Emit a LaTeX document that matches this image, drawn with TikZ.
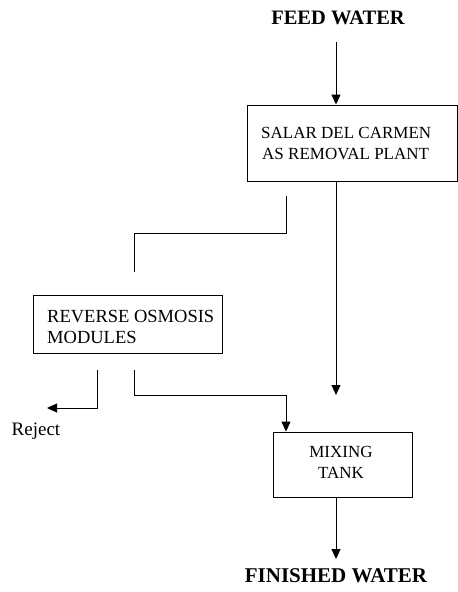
\documentclass[tikz,border=0pt]{standalone}
\usepackage{fontspec}
\setmainfont{Liberation Serif}
\usetikzlibrary{arrows.meta}
\begin{document}
\begin{tikzpicture}[x=1pt,y=-1pt,
  boxed/.style={draw,line width=0.9pt,inner sep=0pt},
  lbl/.style={inner sep=0pt,font=\fontsize{17}{17}\selectfont},
  head/.style={inner sep=0pt,font=\fontsize{20.5}{20.5}\selectfont\bfseries},
  flow/.style={line width=0.9pt},
  tip/.style={-{Triangle[length=10pt,width=9pt]}}]
\useasboundingbox (0,0) rectangle (458,592);
\node[head] (feed) at (338,18) {FEED WATER};
\node[boxed,minimum width=210,minimum height=76] (plant) at (352,143) {};
\node[lbl,anchor=west] (plant1) at (261,133) {SALAR DEL CARMEN};
\node[lbl,anchor=west] (plant2) at (262,154) {AS REMOVAL PLANT};
\node[boxed,minimum width=189,minimum height=58] (ro) at (127.5,324) {};
\node[lbl,anchor=west,font=\fontsize{18.5}{18.5}\selectfont] (ro1) at (47,317) {REVERSE OSMOSIS};
\node[lbl,anchor=west,font=\fontsize{18.5}{18.5}\selectfont] (ro2) at (47,337) {MODULES};
\node[boxed,minimum width=139,minimum height=65] (mix) at (342.5,464.5) {};
\node[lbl] (mix1) at (341,452) {MIXING};
\node[lbl] (mix2) at (341,473) {TANK};
\node[lbl,font=\fontsize{19}{19}\selectfont] (rej) at (36,431) {Reject};
\node[head,font=\fontsize{21}{21}\selectfont\bfseries] (fin) at (336,576) {FINISHED WATER};
\coordinate (f0) at (336,42);
\coordinate (p0) at (336,181);
\coordinate (p1) at (336,395);
\coordinate (a0) at (286,196);
\coordinate (a1) at (134,272);
\coordinate (r0) at (97,370);
\coordinate (r1) at (47,408);
\coordinate (m0) at (134,370);
\coordinate (m1) at (286,395);
\coordinate (e0) at (336,497);
\coordinate (e1) at (336,559);
\draw[flow,tip] (f0) -- (f0 |- plant.north);
\draw[flow,tip] (p0) -- (p1);
\draw[flow] (a0) -- (a0 |- 0,233) -| (a1);
\draw[flow,tip] (r0) |- (r1);
\draw[flow,tip] (m0) |- (m1) -- (m1 |- mix.north);
\draw[flow,tip] (e0) -- (e1);
\end{tikzpicture}
\end{document}
